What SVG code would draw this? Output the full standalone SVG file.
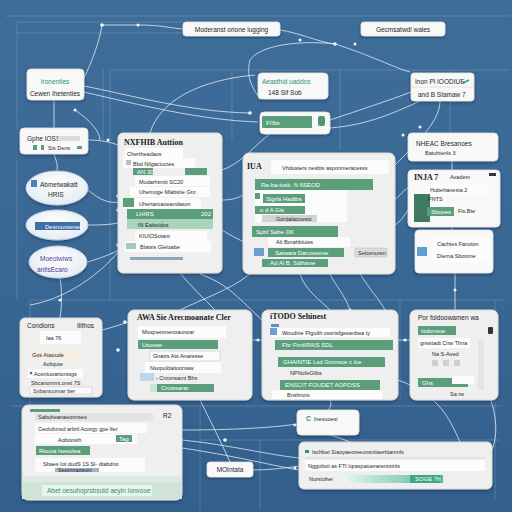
<svg xmlns="http://www.w3.org/2000/svg" width="512" height="512" viewBox="0 0 512 512">
<defs>
<linearGradient id="bg" x1="0" y1="0" x2="0" y2="1">
<stop offset="0" stop-color="#3f6d99"/>
<stop offset="0.5" stop-color="#3a6894"/>
<stop offset="1" stop-color="#325f8b"/>
</linearGradient>
<linearGradient id="tealbar" x1="0" y1="0" x2="1" y2="0">
<stop offset="0" stop-color="#e9f6f2"/>
<stop offset="1" stop-color="#4fb79a"/>
</linearGradient>
<radialGradient id="ovalg" cx="0.5" cy="0.4" r="0.6">
<stop offset="0" stop-color="#ffffff"/>
<stop offset="1" stop-color="#e4ebf3"/>
</radialGradient>
<filter id="sh" x="-10%" y="-10%" width="120%" height="130%">
<feDropShadow dx="0" dy="1.5" stdDeviation="1.5" flood-color="#0d2540" flood-opacity="0.45"/>
</filter>
</defs>
<style>
.panel{fill:#efefef;stroke:#dadada;stroke-width:1;filter:url(#sh)}
.card{fill:#f8f8f8;stroke:#e2e2e2;stroke-width:0.8;filter:url(#sh)}
.row{fill:#fcfcfc}
.rowb{fill:#fbfbfb;stroke:#c9c9c9;stroke-width:0.6}
.g{fill:#5b9e7b}
.lg{fill:#a9d3bc}
.t{font-family:"Liberation Sans",Arial,sans-serif;font-size:6.5px;fill:#1f1f1f}
.ts{font-family:"Liberation Sans",Arial,sans-serif;font-size:5.5px;fill:#2a2a2a}
.tt{font-family:"Liberation Serif","Times New Roman",serif;font-size:8px;fill:#1a1a1a;font-weight:bold}
.tw{font-family:"Liberation Sans",Arial,sans-serif;font-size:6px;fill:#ffffff}
.tg{font-family:"Liberation Sans",Arial,sans-serif;font-size:6.5px;fill:#2e8f78}
.tp{font-family:"Liberation Sans",Arial,sans-serif;font-size:6.5px;fill:#4b3b9c}
.grid{fill:none;stroke:#8fb0cf;stroke-width:1;opacity:0.35}
.c{fill:none;stroke:#e8f0f8;stroke-width:0.9;opacity:0.85}
.d{fill:#f4f8fb}
</style>
<rect width="512" height="512" fill="url(#bg)"/>

<g id="grid">
<path class="grid" d="M5 16H510M17 22H183M17 33H183M17 22V130M17 160V300M103 68V140M110 70H230M110 70V300M232 70H510M232 70V140M340 70V150M450 70V140M30 300H505M30 300V405M400 300V400M10 406H500M200 406V510M200 440H500M260 440V510M495 300V500"/>
</g>

<g id="connectors">
<path class="c" d="M102 25C100 40 92 62 83 80"/>
<path class="c" d="M102 25L140 25C160 25 170 28 183 29"/>
<path class="c" d="M84 86C130 95 190 112 250 113"/>
<path class="c" d="M84 92C140 105 200 120 258 122"/>
<path class="c" d="M280 30C300 33 318 42 335 44C370 55 395 68 410 72"/>
<path class="c" d="M335 44C300 40 260 45 250 60C245 80 255 90 260 100"/>
<path class="c" d="M255 75C200 80 160 100 150 133"/>
<path class="c" d="M330 120C360 110 390 100 411 92"/>
<path class="c" d="M330 128C370 125 400 110 420 101"/>
<path class="c" d="M54 100V128"/>
<path class="c" d="M54 154C56 160 58 165 57 170"/>
<path class="c" d="M88 140C100 140 110 142 118 145"/>
<path class="c" d="M88 190C100 200 110 205 123 201"/>
<path class="c" d="M88 225C100 225 110 225 123 222"/>
<path class="c" d="M88 262C100 258 110 255 125 247"/>
<path class="c" d="M75 110C90 120 100 132 100 140"/>
<path class="c" d="M222 200C232 200 238 198 243 195"/>
<path class="c" d="M222 230C235 238 240 240 250 245"/>
<path class="c" d="M222 170C240 165 260 140 270 134"/>
<path class="c" d="M395 200C400 195 404 190 408 188"/>
<path class="c" d="M395 225C400 222 405 215 408 210"/>
<path class="c" d="M395 165C420 140 440 120 440 101"/>
<path class="c" d="M452 160V170"/>
<path class="c" d="M452 227V230"/>
<path class="c" d="M455 273V310"/>
<path class="c" d="M300 274C305 290 320 300 330 310"/>
<path class="c" d="M330 274C335 285 345 295 350 310"/>
<path class="c" d="M360 274C370 290 380 300 385 310"/>
<path class="c" d="M250 274C230 290 200 300 180 310"/>
<path class="c" d="M180 273C190 285 205 300 215 310"/>
<path class="c" d="M200 274C230 285 240 300 262 320"/>
<path class="c" d="M60 278C62 290 62 305 60 318"/>
<path class="c" d="M102 330C110 328 120 325 128 322"/>
<path class="c" d="M120 250C95 280 60 300 30 305"/>
<path class="c" d="M252 340C256 340 259 340 262 340"/>
<path class="c" d="M398 340C402 340 406 340 410 340"/>
<path class="c" d="M398 380C440 395 450 420 460 442"/>
<path class="c" d="M182 430C230 430 270 428 297 424"/>
<path class="c" d="M182 440C230 445 270 455 299 458"/>
<path class="c" d="M182 448C230 455 270 465 299 470"/>
<path class="c" d="M253 470C270 470 285 468 299 466"/>
<path class="c" d="M330 400C332 405 330 408 328 410"/>
<path class="c" d="M200 400C210 420 220 440 230 462"/>
<path class="c" d="M330 435C340 438 345 440 350 442"/>
<path class="c" d="M480 380C495 400 500 430 492 450"/>
</g>
<g id="dots">
<circle class="d" cx="102" cy="25" r="1.8"/><circle class="d" cx="138" cy="25" r="1.5"/><circle class="d" cx="335" cy="44" r="1.8"/><circle class="d" cx="355" cy="44" r="1.5"/>
<circle class="d" cx="250" cy="113" r="1.8"/><circle class="d" cx="75" cy="110" r="1.5"/><circle class="d" cx="108" cy="140" r="1.5"/><circle class="d" cx="118" cy="196" r="1.8"/>
<circle class="d" cx="118" cy="210" r="1.8"/><circle class="d" cx="118" cy="245" r="1.8"/><circle class="d" cx="403" cy="135" r="1.5"/><circle class="d" cx="420" cy="127" r="1.5"/>
<circle class="d" cx="455" cy="290" r="1.5"/><circle class="d" cx="372" cy="262" r="1.8"/><circle class="d" cx="125" cy="322" r="1.8"/><circle class="d" cx="60" cy="300" r="1.5"/>
<circle class="d" cx="118" cy="350" r="1.8"/><circle class="d" cx="258" cy="340" r="1.5"/><circle class="d" cx="405" cy="340" r="1.5"/><circle class="d" cx="305" cy="445" r="1.8"/>
<circle class="d" cx="225" cy="440" r="1.8"/><circle class="d" cx="295" cy="425" r="1.5"/><circle class="d" cx="295" cy="468" r="1.5"/><circle class="d" cx="480" cy="380" r="1.5"/>
<circle class="d" cx="270" cy="128" r="1.5"/><circle class="d" cx="300" cy="40" r="1.5"/><circle class="d" cx="150" cy="325" r="1.5"/><circle class="d" cx="350" cy="310" r="1.5"/>
</g>

<g id="n-moderated">
<rect class="card" x="183" y="22" width="97" height="14" rx="3"/>
<text class="t" x="231.5" y="31.5" text-anchor="middle">Moderanst orione lugging</text>
</g>
<g id="n-germannal">
<rect class="card" x="361" y="22" width="84" height="14" rx="3"/>
<text class="t" x="403" y="31.5" text-anchor="middle">Gecmsatwdl wales</text>
</g>
<g id="n-ironenties">
<rect class="card" x="27" y="69" width="57" height="31" rx="4"/>
<text class="tg" x="55" y="84" text-anchor="middle">Ironenties</text>
<text class="t" x="55" y="96" text-anchor="middle">Cewen Ihetenties</text>
</g>
<g id="n-aeasthid">
<rect class="card" x="258" y="73" width="70" height="26" rx="4"/>
<text class="tg" x="262" y="84">Aeasthid uaddos</text>
<text class="t" x="268" y="95">148 Sif Sob</text>
</g>
<g id="n-inon">
<rect class="card" x="411" y="73" width="63" height="28" rx="3"/>
<line x1="411" y1="87" x2="474" y2="87" stroke="#dcdcdc" stroke-width="0.8"/>
<text class="t" x="415" y="84">Inon Pl IOODIUE</text>
<path d="M463 83l6-3" stroke="#3a9c7a" stroke-width="1.8"/>
<text class="t" x="418" y="97">and B Stamaw 7</text>
</g>
<g id="n-flbs">
<rect class="card" x="260" y="112" width="70" height="22" rx="4"/>
<rect class="g" x="262" y="116" width="50" height="12" rx="1"/>
<text class="tw" x="266" y="124.5">Fl'lbs</text>
<rect x="318" y="116" width="7" height="10" rx="2" fill="#4f9a74"/>
</g>
<g id="n-gphe">
<rect class="card" x="20" y="128" width="68" height="26" rx="4"/>
<text class="t" x="27" y="141">Gphe IOSS</text>
<rect x="58" y="136" width="22" height="5" fill="#dcdcdc"/>
<rect class="g" x="33" y="145" width="4" height="5"/>
<rect class="g" x="41" y="145" width="3" height="5"/>
<text class="ts" x="48" y="150">Sis Dens</text>
<rect class="g" x="77" y="146" width="5" height="3"/>
</g>
<g id="n-oval1">
<ellipse cx="57" cy="188" rx="31" ry="17" fill="url(#ovalg)" stroke="#b9cde3" filter="url(#sh)"/>
<rect x="31" y="180" width="6" height="7" fill="#4a7fc0"/>
<text class="t" x="40" y="187">Abmetwakatt</text>
<text class="t" x="48" y="197">HRIS</text>
</g>
<g id="n-oval2">
<ellipse cx="57" cy="225" rx="31" ry="15" fill="url(#ovalg)" stroke="#b9cde3" filter="url(#sh)"/>
<rect x="35" y="222" width="45" height="8" fill="#3f6fa6"/>
<text class="tw" x="45" y="228.5" font-size="5">Desmontenes</text>
</g>
<g id="n-oval3">
<ellipse cx="58" cy="262" rx="29" ry="16" fill="url(#ovalg)" stroke="#b9cde3" filter="url(#sh)"/>
<text class="tp" x="40" y="261">Moeotwiws</text>
<text class="tp" x="37" y="272">antisEcaro</text>
</g>

<g id="n-nxfhib">
<rect class="panel" x="118" y="133" width="104" height="140" rx="5"/>
<text class="tt" x="124" y="145">NXFHIB Auttion</text>
<rect class="row" x="125" y="148" width="58" height="10"/>
<text class="ts" x="127" y="155.5">Chertheadaos</text>
<rect class="row" x="123" y="158" width="72" height="10"/>
<rect x="126" y="160" width="5" height="5" fill="#b7c4c0"/>
<text class="ts" x="133" y="165.5">Bbd Nilgactuctes</text>
<rect class="g" x="133" y="168" width="20" height="7"/>
<text class="tw" x="137" y="174" font-size="5">AN 30</text>
<rect class="g" x="185" y="168" width="22" height="7"/>
<rect class="row" x="135" y="176" width="75" height="10"/>
<text class="ts" x="139" y="183.5">Mudarhtmiit SC20</text>
<rect class="row" x="130" y="187" width="80" height="10"/>
<text class="ts" x="139" y="194">Uhemoge Mlabstie Gro</text>
<rect class="row" x="123" y="198" width="78" height="11"/>
<rect x="123" y="198" width="11" height="9" fill="#5b9e7b"/>
<text class="ts" x="139" y="205.5">Uhertaroaoeandason</text>
<rect class="g" x="127" y="209" width="86" height="10"/>
<text class="tw" x="136" y="216">LHIRS</text>
<text class="tw" x="201" y="216">202</text>
<rect class="lg" x="127" y="219" width="86" height="10"/>
<text class="ts" x="138" y="226.5">IN Ealssidos</text>
<rect class="row" x="135" y="231" width="72" height="10"/>
<text class="ts" x="139" y="238">KIUIOSotant</text>
<rect class="row" x="125" y="241" width="86" height="11"/>
<rect x="126" y="243" width="10" height="6" fill="#a6c9b3"/>
<text class="ts" x="140" y="248.5">Blatsis Gleloabe</text>
<rect x="130" y="257" width="53" height="3" fill="#8ea7b8"/>
</g>

<g id="n-iua">
<rect class="panel" x="243" y="153" width="152" height="121" rx="6"/>
<text class="tt" x="247" y="169">IUA</text>
<rect class="row" x="271" y="160" width="118" height="14" rx="2"/>
<text class="ts" x="282" y="169.5">Vhdusters nesbts asponmeracesss</text>
<rect class="g" x="255" y="179" width="118" height="11"/>
<text class="tw" x="261" y="187">Ra-ba-tusk. N 6SEOD</text>
<rect class="row" x="255" y="190" width="92" height="32"/>
<rect class="g" x="255" y="193" width="5" height="6"/>
<rect class="g" x="263" y="194" width="42" height="9"/>
<text class="tw" x="266" y="200.5" font-size="5">Sigrla Hadibs</text>
<rect class="g" x="255" y="206" width="50" height="8"/>
<text class="tw" x="260" y="212" font-size="5">o d  A Gis</text>
<rect x="262" y="215" width="55" height="7" fill="#cfd3d1"/>
<text class="ts" x="276" y="220.5" font-size="4.5">Gordalaocesst</text>
<rect class="g" x="252" y="226" width="86" height="11"/>
<text class="tw" x="256" y="234">Spbf  Sabe DK</text>
<rect class="row" x="268" y="237" width="82" height="10"/>
<text class="ts" x="276" y="244">Alt Borahbluies</text>
<rect x="254" y="248" width="10" height="8" fill="#6c9fd0"/>
<rect class="g" x="268" y="248" width="76" height="9"/>
<text class="tw" x="275" y="254.5" font-size="5">Saiwaia Darusseme</text>
<rect class="g" x="262" y="259" width="66" height="8"/>
<text class="tw" x="270" y="265" font-size="5">Ad Al  B. Sdthane</text>
<rect x="355" y="248" width="32" height="9" rx="1" fill="#dcdcdc" stroke="#bbb" stroke-width="0.5"/>
<text class="ts" x="358" y="254.5" font-size="4.5">Selcenuren</text>
</g>

<g id="n-nheac">
<rect class="card" x="408" y="133" width="90" height="28" rx="4"/>
<text class="t" x="416" y="146">NHEAC Bresanoes</text>
<text class="ts" x="425" y="155">Batuhtenls 3</text>
</g>
<g id="n-inja">
<rect class="card" x="408" y="170" width="92" height="57" rx="4"/>
<text class="tt" x="414" y="180">INJA 7</text>
<text class="ts" x="450" y="179">Avadem</text>
<rect x="489" y="173" width="7" height="3" fill="#333"/>
<rect class="row" x="425" y="184" width="64" height="11"/>
<text class="ts" x="430" y="191.5">Hubehanesta 2</text>
<rect x="414" y="194" width="16" height="28" fill="#3f7a62"/>
<text class="ts" x="428" y="201">PNTS</text>
<rect class="g" x="427" y="207" width="27" height="9"/>
<text class="tw" x="431" y="213.5" font-size="5">Sbcees</text>
<text class="ts" x="458" y="213">Fis.Bte</text>
</g>
<g id="n-cachtes">
<rect class="card" x="415" y="230" width="78" height="43" rx="4"/>
<rect class="row" x="432" y="238" width="58" height="12"/>
<text class="ts" x="437" y="246">Cachtes Fanoion</text>
<rect x="417" y="247" width="10" height="9" fill="#5f9fd0"/>
<rect class="row" x="432" y="250" width="58" height="12"/>
<text class="ts" x="437" y="258">Dierna Sborone</text>
</g>

<g id="n-condions">
<rect class="panel" x="20" y="318" width="82" height="79" rx="5"/>
<text class="t" x="27" y="328">Condions</text>
<text class="t" x="94" y="328" text-anchor="end">Ilithos</text>
<rect class="row" x="40" y="331" width="41" height="13"/>
<text class="ts" x="46" y="340">Iaa 76</text>
<rect x="30" y="350" width="50" height="9" fill="#f6efe0"/>
<text class="ts" x="32" y="356.5">Gos  Ataoude</text>
<text class="ts" x="43" y="366">Aoliqute</text>
<rect class="row" x="28" y="369" width="55" height="9"/>
<circle cx="31" cy="373" r="1.3" fill="#3a6fb0"/>
<text class="ts" x="34" y="375.5" font-size="5">Acentuoartontsgs</text>
<text class="ts" x="31" y="385" font-size="5">Sbcanommt.onst 7S</text>
<rect class="rowb" x="30" y="387" width="62" height="7"/>
<text class="ts" x="33" y="392.5" font-size="4.5">Sxbantuomar ber</text>
</g>

<g id="n-awa">
<rect class="panel" x="128" y="310" width="124" height="90" rx="6"/>
<text class="tt" x="137" y="320">AWA Sie Arecmoanate Cler</text>
<rect class="row" x="138" y="326" width="88" height="12"/>
<text class="ts" x="142" y="334">Mioqneronenoaunoar</text>
<rect class="g" x="138" y="340" width="80" height="9"/>
<text class="tw" x="142" y="346.5" font-size="5">Usosse</text>
<rect class="rowb" x="150" y="351" width="70" height="10"/>
<text class="ts" x="153" y="358">Gnatrs Ats Anaresse</text>
<rect class="row" x="145" y="362" width="76" height="11"/>
<text class="ts" x="150" y="369.5">Nsopuldaitoorsaw</text>
<rect x="140" y="373" width="14" height="8" fill="#bcd6ea"/>
<text class="ts" x="156" y="380">&#8250; Cnronsamt Bhs</text>
<rect x="150" y="384" width="7" height="8" fill="#cfe3d7"/>
<rect class="g" x="157" y="384" width="57" height="8"/>
<text class="tw" x="161" y="390" font-size="5">Crowsarar</text>
</g>

<g id="n-itodo">
<rect class="panel" x="262" y="310" width="136" height="90" rx="6"/>
<text class="tt" x="270" y="319">iTODO Sehinest</text>
<rect x="271" y="324" width="8" height="3" fill="#5b8fc6"/>
<rect class="row" x="270" y="328" width="120" height="9"/>
<rect x="270" y="328" width="7" height="7" fill="#6f9fcc"/>
<text class="ts" x="282" y="334.5" font-size="5">Woudnie PIgulth ossrtsfgesanbea ty</text>
<rect class="g" x="275" y="340" width="118" height="10"/>
<text class="tw" x="282" y="347">Fbr FimfiRAIS SDL</text>
<rect class="g" x="278" y="357" width="107" height="10"/>
<text class="tw" x="283" y="364" font-size="5.5">GHAINTIE Lsd Gronsoe c lce</text>
<text class="ts" x="290" y="375">NPNofeGlibs</text>
<rect class="g" x="280" y="380" width="100" height="10"/>
<text class="tw" x="285" y="387" font-size="5.5">ENSCIT FOUDET AOPOSS</text>
<rect class="row" x="272" y="390" width="110" height="9"/>
<text class="ts" x="287" y="396.5">Bnshnois</text>
</g>

<g id="n-por">
<rect class="panel" x="410" y="310" width="88" height="90" rx="6"/>
<text class="t" x="418" y="320">Por foldoowamen wa</text>
<rect class="g" x="418" y="326" width="38" height="9"/>
<text class="tw" x="421" y="332.5" font-size="5">Isdonsoe</text>
<rect x="488" y="327" width="5" height="7" rx="1" fill="#333"/>
<rect class="row" x="418" y="338" width="52" height="10"/>
<text class="ts" x="420" y="345">gnsstadt Cnw Thna</text>
<rect x="478" y="340" width="6" height="50" fill="#e4e4e4"/>
<text class="ts" x="432" y="356">Na S-Aved</text>
<rect x="432" y="360" width="6" height="6" fill="#cfcfcf"/>
<rect x="443" y="360" width="6" height="6" fill="#cfcfcf"/>
<rect x="454" y="360" width="6" height="6" fill="#cfcfcf"/>
<rect class="g" x="418" y="378" width="50" height="9"/>
<text class="tw" x="422" y="384.5" font-size="5">Ghs</text>
<rect class="row" x="452" y="376" width="22" height="8"/>
<text class="ts" x="450" y="396">Sa  rw</text>
</g>

<g id="n-bottomleft">
<rect class="panel" x="22" y="405" width="160" height="95" rx="6"/>
<rect class="g" x="30" y="409" width="30" height="3"/>
<rect x="35" y="413" width="118" height="8" fill="#e3e3e3"/>
<text class="ts" x="38" y="419">Sabuheanaeonnses</text>
<text class="t" x="163" y="418">R2</text>
<rect class="row" x="35" y="423" width="112" height="10"/>
<text class="ts" x="38" y="430.5">Ceolubinsd arbril Acorgy gpe lfer</text>
<rect class="row" x="35" y="434" width="102" height="10"/>
<text class="ts" x="58" y="441.5">Aoboosth</text>
<rect class="g" x="116" y="435" width="16" height="7"/>
<text class="tw" x="119" y="440.5" font-size="5">Tag</text>
<rect class="g" x="36" y="446" width="54" height="9"/>
<text class="tw" x="39" y="452.5" font-size="5">Rsooa Isesolea</text>
<rect class="row" x="35" y="458" width="110" height="14"/>
<text class="ts" x="43" y="465.5">Sbaes Iot dudS 1S Sl- dtabdno</text>
<rect x="55" y="468" width="44" height="4" fill="#9fb6c8"/>
<text class="ts" x="58" y="471.5" font-size="4">Seomnaosum</text>
<rect x="22" y="476" width="160" height="6" fill="#dfe9e3"/>
<rect x="22" y="482" width="160" height="17" fill="#cfe3d6"/>
<rect x="42" y="485" width="110" height="11" fill="#e8f4ec"/>
<text class="tg" x="47" y="492.5" font-size="5">Abet oesuhoprsbsutd aeyin Ionvooe</text>
</g>

<g id="n-mointata">
<rect class="card" x="207" y="462" width="46" height="15" rx="3"/>
<text class="t" x="230" y="472" text-anchor="middle">MOIntata</text>
</g>

<g id="n-inesuoe">
<rect class="card" x="297" y="410" width="62" height="25" rx="4"/>
<text class="tg" x="306" y="421" font-weight="bold">C</text>
<text class="ts" x="314" y="420.5">Inesuoesi</text>
</g>

<g id="n-ischbet">
<rect class="panel" x="299" y="442" width="193" height="47" rx="5"/>
<rect x="305" y="450" width="4" height="3" fill="#3a8f70"/>
<text class="ts" x="312" y="454">Ischbet Siaoyaeoreeunsntiaertitanmls</text>
<line x1="305" y1="458" x2="485" y2="458" stroke="#d4d4d4"/>
<rect class="row" x="305" y="460" width="180" height="11"/>
<text class="ts" x="308" y="467.5">Nggobsit as FTI Iqraspaiuerarentstrits</text>
<text class="ts" x="309" y="481">Nurstoher</text>
<rect x="343" y="475" width="100" height="8" fill="url(#tealbar)"/>
<rect x="410" y="475" width="30" height="8" fill="#3fa584"/>
<text class="tw" x="415" y="481" font-size="5">SOGE 7h</text>
</g>
</svg>
